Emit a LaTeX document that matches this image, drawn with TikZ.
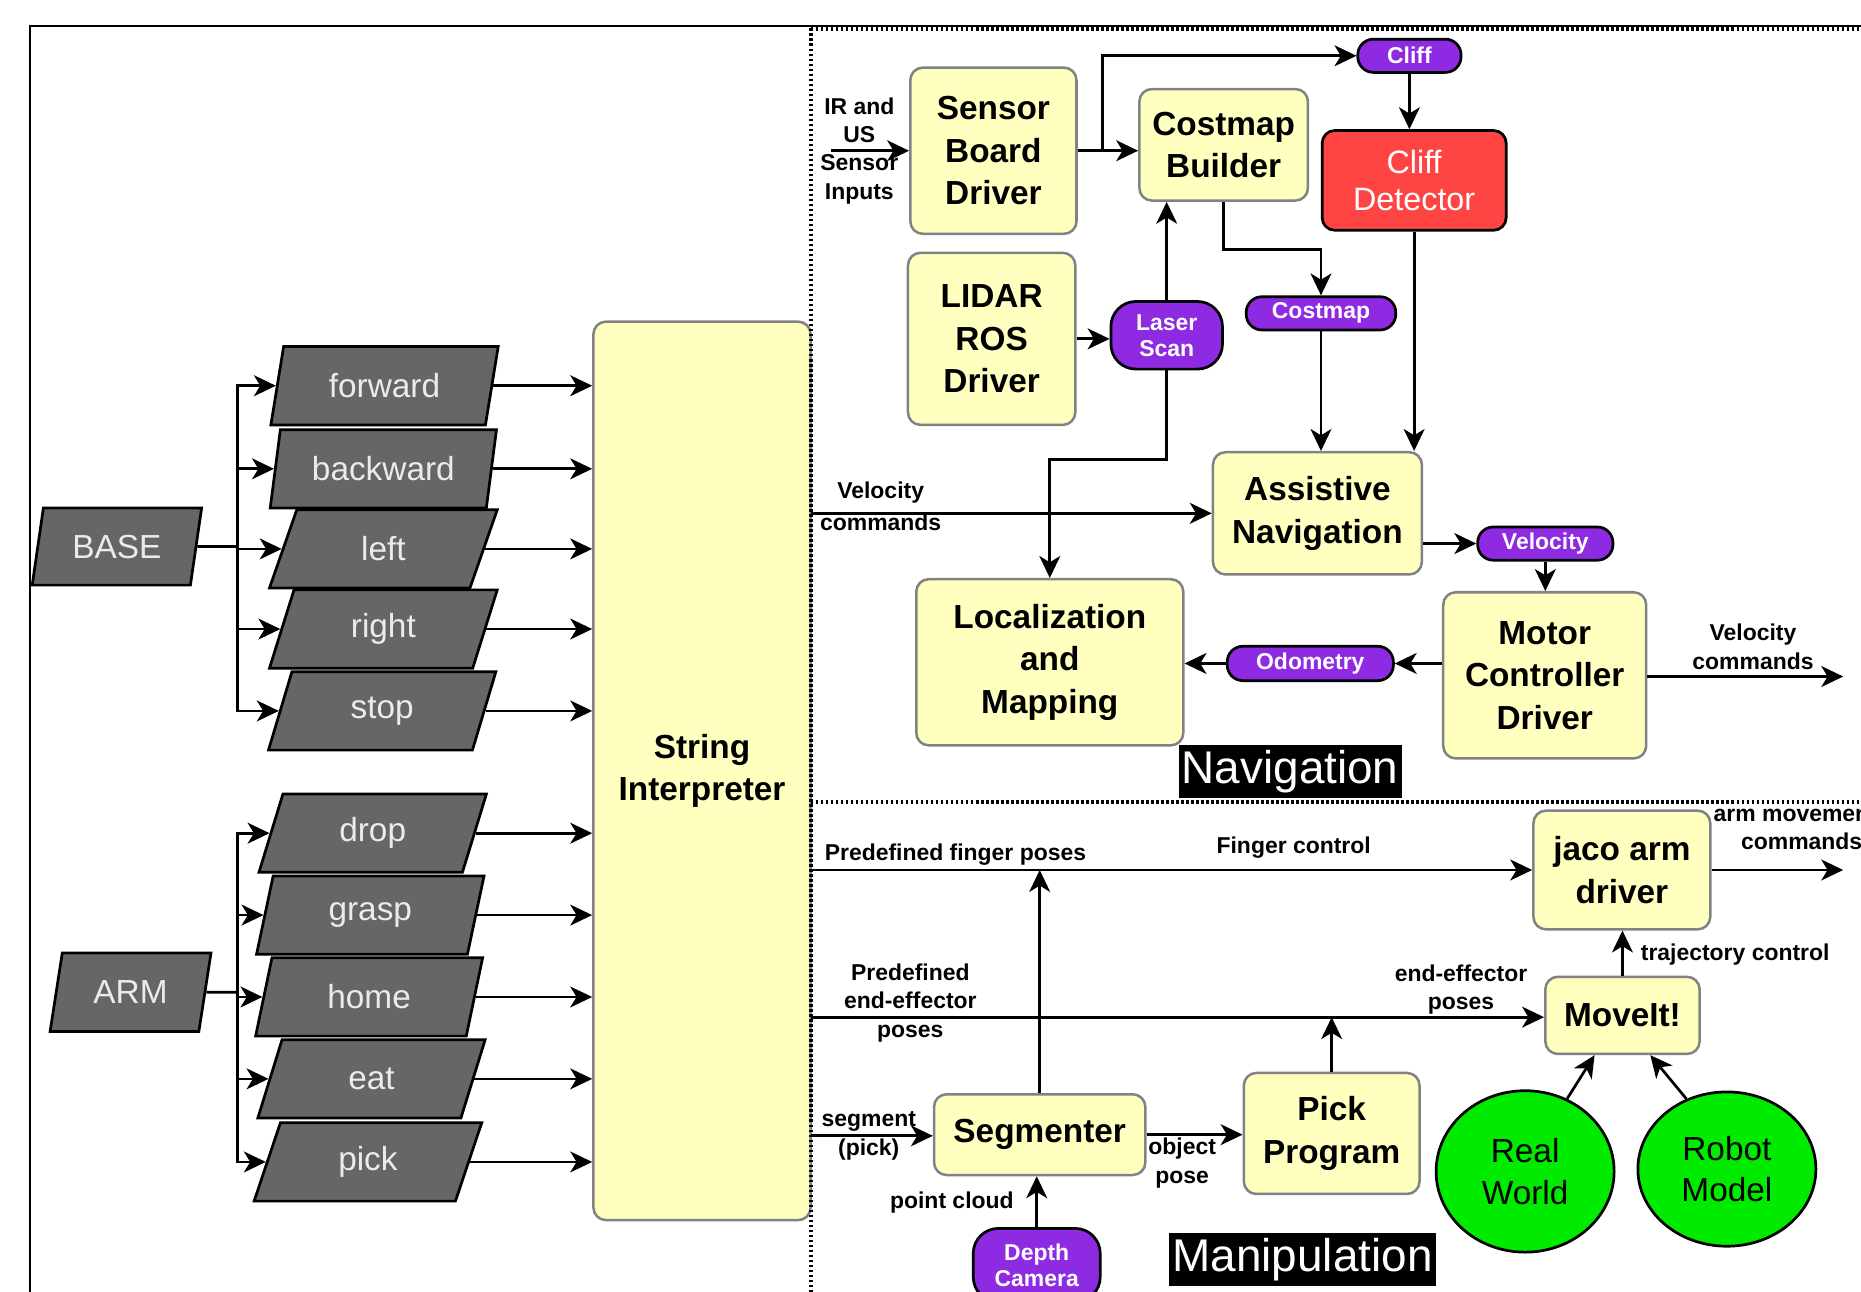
\documentclass[tikz,border=0pt]{standalone}
\usepackage{fontspec}
\setmainfont{Liberation Sans}
\usetikzlibrary{arrows.meta,shapes.geometric}
\definecolor{yfill}{RGB}{255,255,192}
\definecolor{ybord}{RGB}{130,130,130}
\definecolor{purp}{RGB}{142,43,226}
\definecolor{cred}{RGB}{255,68,68}
\definecolor{cgreen}{RGB}{0,235,0}
\definecolor{pgray}{RGB}{102,102,102}
\begin{document}
\begin{tikzpicture}[x=0.02cm,y=-0.02cm,
 sz/.style 2 args={minimum width=#1*0.02cm, minimum height=#2*0.02cm},
 ybox/.style={draw=ybord, fill=yfill, line width=1.2pt, rounded corners=6pt, align=center, inner sep=0pt, font=\bfseries\fontsize{16}{20.4}\selectfont},
 redbox/.style={draw=black, fill=cred, line width=1.3pt, rounded corners=6pt, align=center, inner sep=0pt, text=white, font=\fontsize{15.5}{18}\selectfont},
 pill/.style={draw=black, fill=purp, line width=1.3pt, rounded corners=7.5pt, text=white, align=center, inner sep=0pt, font=\bfseries\fontsize{11}{12.5}\selectfont},
 para/.style={trapezium, trapezium left angle=74, trapezium right angle=106, trapezium stretches=true, draw=black, fill=pgray, line width=1.3pt, text=white!92!black, inner sep=0pt, font=\fontsize{16}{19}\selectfont},
 ell/.style={ellipse, draw=black, fill=cgreen, line width=1.3pt, align=center, inner sep=0pt, font=\fontsize{16}{20}\selectfont},
 lbl/.style={font=\bfseries\fontsize{11}{13.6}\selectfont, align=center, inner sep=0pt},
 ttl/.style={fill=black, text=white, inner sep=0pt, font=\fontsize{22}{24}\selectfont},
 arr/.style={line width=1.3pt, -{Stealth[length=10.5pt,width=10pt,inset=3pt]}},
 plain/.style={line width=1.3pt},
 dotline/.style={line width=2pt, dash pattern={on 1.3pt off 1.1pt}}
]
\useasboundingbox (0,0) rectangle (1568,1088);
\clip (0,0) rectangle (1568,1088);
\fill[white] (0,0) rectangle (1568,1088);

% frame
\draw[line width=0.9pt] (25,1100) -- (25,22) -- (1580,22);

% left part: parallelograms
\node[para, sz={143}{65}] (base) at (98.5,460.5) {BASE};
\node[para, sz={136}{66}] (arm) at (110,836) {ARM};
\node[para, sz={192}{66}] (fw) at (324,325) {forward};
\node[para, sz={192}{66}] (bw) at (323,395) {backward};
\node[para, sz={192}{66}] (lf) at (323,462.5) {left};
\node[para, sz={192}{66}] (rt) at (323,530) {right};
\node[para, sz={192}{66}] (st) at (322,599) {stop};
\node[para, sz={192}{66}] (dr) at (314,702) {drop};
\node[para, sz={192}{66}] (gr) at (312,771) {grasp};
\node[para, sz={192}{66}] (hm) at (311,840) {home};
\node[para, sz={192}{66}] (et) at (313,909) {eat};
\node[para, sz={192}{66}] (pk) at (310,979) {pick};

\node[ybox, sz={183}{757}] (si) at (591.5,649.5) {String\\Interpreter};

\coordinate (bbus) at (200,460.5);
\coordinate (abus) at (200,836);
\draw[plain] (base.east) -- (bbus);
\draw[plain] (arm.east) -- (abus);
\foreach \n in {fw,bw,lf,rt,st}{\draw[arr] (bbus) |- (\n.west);}
\foreach \n in {dr,gr,hm,et,pk}{\draw[arr] (abus) |- (\n.west);}
\foreach \n in {fw,bw,lf,rt,st,dr,gr,hm,et,pk}{\draw[arr] (\n.east) -- (\n.east -| si.west);}

% section separators
\draw[dotline] (683,24) -- (683,1100);
\draw[dotline] (683,24) -- (1580,24);
\draw[dotline] (683,676) -- (1580,676);

% Navigation
\node[ybox, sz={140}{140}] (sbd) at (837,127) {Sensor\\Board\\Driver};
\node[ybox, sz={142}{94}] (cb) at (1031,122) {Costmap\\Builder};
\node[redbox, sz={155}{84}] (cd) at (1191.5,152) {Cliff\\Detector};
\node[ybox, sz={141}{145}] (lidar) at (835.5,285.5) {LIDAR\\ROS\\Driver};
\node[pill, sz={94}{57}, rounded corners=12pt] (ls) at (983,282.5) {Laser\\Scan};
\node[pill, sz={126}{28}] (cmp) at (1113,264) {Costmap};
\node[pill, sz={87}{28}] (cliffp) at (1187.5,47) {Cliff};
\node[ybox, sz={176}{103}] (an) at (1110,432.5) {Assistive\\Navigation};
\node[pill, sz={114}{28}] (velp) at (1302,458) {Velocity};
\node[ybox, sz={171}{140}] (mcd) at (1301.5,569) {Motor\\Controller\\Driver};
\node[pill, sz={140}{29}] (odo) at (1104,559) {Odometry};
\node[ybox, sz={225}{140}] (lm) at (884.5,558) {Localization\\and\\Mapping};
\node[ttl, sz={188}{44}] (navt) at (1087,650) {Navigation};

\node[lbl] (lir) at (724,127) {IR and\\US\\Sensor\\Inputs};
\coordinate (irin) at (700,127);
\draw[arr] (irin) -- (sbd.west);
\draw[arr] (sbd.east) -- (sbd.east -| cb.west);
\coordinate (br1) at (929,127);
\draw[arr] (br1) |- (cliffp.west);
\draw[arr] (cliffp.south) -- (cliffp.south |- cd.north);
\draw[arr] (cd.south) -- (cd.south |- an.north);
\coordinate (cmk) at (1031,210);
\draw[arr] (cb.south) -- (cmk) -| (cmp.north);
\draw[arr] (cmp.south) -- (cmp.south |- an.north);
\draw[arr] (lidar.east) -- (lidar.east -| ls.west);
\draw[arr] (ls.north) -- (ls.north |- cb.south);
\coordinate (lsk) at (983,387);
\draw[arr] (ls.south) -- (lsk) -| (lm.north);
\coordinate (vcin) at (683,432.5);
\draw[arr] (vcin) -- (an.west);
\node[lbl] (lvc1) at (742,415) {Velocity};
\node[lbl] (lvc2) at (742,440) {commands};
\draw[arr] (an.east |- velp) -- (velp.west);
\draw[arr] (velp.south) -- (velp.south |- mcd.north);
\draw[arr] (mcd.west |- odo) -- (odo.east);
\draw[arr] (odo.west) -- (odo.west -| lm.east);
\coordinate (vcout) at (1553,570);
\draw[arr] (mcd.east |- vcout) -- (vcout);
\node[lbl] (lvc3) at (1477,545) {Velocity\\commands};

% Manipulation
\node[ybox, sz={149}{100}] (jaco) at (1366.5,733) {jaco arm\\driver};
\node[ybox, sz={130}{65}] (moveit) at (1367,855.5) {MoveIt!};
\node[ybox, sz={178}{68}] (seg) at (876,956) {Segmenter};
\node[ybox, sz={148}{102}] (pp) at (1122,955) {Pick\\Program};
\node[ell, sz={150}{136}] (rw) at (1285,987) {Real\\World};
\node[ell, sz={150}{130}] (rm) at (1455,985) {Robot\\Model};
\node[pill, sz={107}{62}, rounded corners=12pt] (dc) at (873.5,1066) {Depth\\Camera};
\node[ttl, sz={225}{45}] (mant) at (1097.5,1061) {Manipulation};

\coordinate (fpin) at (683,733);
\draw[arr] (fpin) -- (fpin -| jaco.west);
\draw[arr] (seg.north) -- (seg.north |- fpin);
\node[lbl] (lpfp) at (805,720) {Predefined finger poses};
\node[lbl] (lfc) at (1090,714) {Finger control};
\coordinate (epin) at (683,857);
\draw[arr] (epin) -- (epin -| moveit.west);
\draw[arr] (pp.north) -- (pp.north |- epin);
\node[lbl] (lpep) at (767,845) {Predefined\\end-effector\\poses};
\node[lbl] (leep) at (1231,834) {end-effector\\poses};
\draw[arr] (moveit.north) -- (moveit.north |- jaco.south);
\node[lbl] (ltc) at (1462,804) {trajectory control};
\coordinate (amout) at (1553,733);
\draw[arr] (jaco.east) -- (amout);
\node[lbl] (lam) at (1518,698) {arm movements\\commands};
\coordinate (sgin) at (683,957);
\draw[arr] (sgin) -- (sgin -| seg.west);
\node[lbl] (lseg) at (732,957) {segment\\(pick)};
\draw[arr] (seg.east) -- (seg.east -| pp.west);
\node[lbl] (lop) at (996,980) {object\\pose};
\draw[arr] (dc.north) -- (dc.north |- seg.south);
\node[lbl] (lpc) at (802,1013) {point cloud};
\draw[arr] (rw.60) -- (moveit.235);
\draw[arr] (rm.120) -- (moveit.305);
\end{tikzpicture}
\end{document}
